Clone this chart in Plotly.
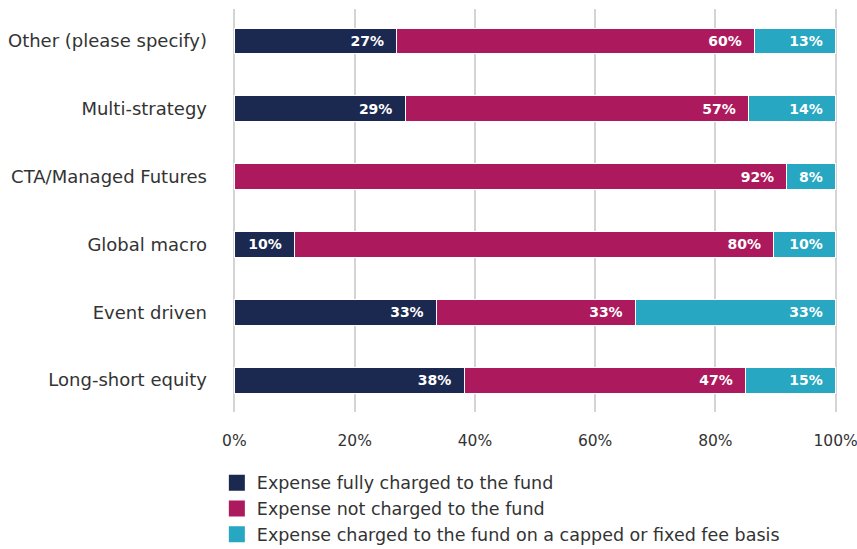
import plotly.graph_objects as go

categories = ["Long-short equity", "Event driven", "Global macro",
              "CTA/Managed Futures", "Multi-strategy", "Other (please specify)"]
fully_charged = [38.2, 33.6, 10.0, 0.0, 28.4, 27.0]
not_charged = [46.8, 33.1, 79.7, 91.9, 57.1, 59.5]
capped = [15.0, 33.3, 10.3, 8.1, 14.5, 13.5]
fully_labels = ["38%", "33%", "10%", "", "29%", "27%"]
not_labels = ["47%", "33%", "80%", "92%", "57%", "60%"]
capped_labels = ["15%", "33%", "10%", "8%", "14%", "13%"]
tick_vals = [0, 20, 40, 60, 80, 100]
tick_text = ["0%", "20%", "40%", "60%", "80%", "100%"]

series = [
    ("Expense fully charged to the fund", fully_charged, fully_labels, "#1b2950"),
    ("Expense not charged to the fund", not_charged, not_labels, "#ad195d"),
    ("Expense charged to the fund on a capped or fixed fee basis", capped, capped_labels, "#27a7c1"),
]

pad = "\u00a0\u00a0"
fig = go.Figure()
for name, vals, labels, color in series:
    fig.add_trace(go.Bar(
        y=categories, x=vals, name=name, orientation="h", showlegend=False,
        legendgroup=name,
        marker=dict(color=color, line=dict(color="white", width=1)),
        text=[(t + pad) if t else "" for t in labels],
        textposition="inside", insidetextanchor="end",
        textfont=dict(color="white", size=14, family="DejaVu Sans"),
        texttemplate="<b>%{text}</b>", cliponaxis=False,
    ))
# legend entries with larger square swatches
for name, vals, labels, color in series:
    fig.add_trace(go.Scatter(
        x=[None], y=[None], name=name, mode="markers", legendgroup=name,
        marker=dict(symbol="square", size=16, color=color), showlegend=True,
        hoverinfo="skip",
    ))

fig.update_layout(
    barmode="stack", bargap=0.62,
    width=857, height=549,
    margin=dict(l=232, r=19, t=9, b=137, autoexpand=False),
    plot_bgcolor="white", paper_bgcolor="white",
    font=dict(family="DejaVu Sans", size=16, color="#333333"),
    legend=dict(orientation="v", x=-0.025, xanchor="left", y=-0.131, yanchor="top",
                font=dict(size=17.5, color="#333333"), itemwidth=30,
                traceorder="normal", tracegroupgap=0),
    xaxis=dict(range=[-0.4, 100.4], tickvals=tick_vals, ticktext=tick_text,
               showgrid=True, gridcolor="#d4d4d4", gridwidth=2,
               ticks="outside", ticklen=14, tickwidth=1, tickcolor="rgba(0,0,0,0)",
               zeroline=False, showline=False, fixedrange=True, automargin=False,
               ticklabeloverflow="allow",
               tickfont=dict(size=15.5, color="#333333")),
    yaxis=dict(range=[-0.47, 5.47], showgrid=False, ticks="", ticklen=0, zeroline=False,
               automargin=False, fixedrange=True,
               tickfont=dict(size=18, color="#333333"), ticklabelstandoff=24),
    showlegend=True,
)

fig.write_html(
    "out.html",
    config={"displayModeBar": False},
    post_script="document.body.style.margin='0';document.body.style.overflow='hidden';",
)
